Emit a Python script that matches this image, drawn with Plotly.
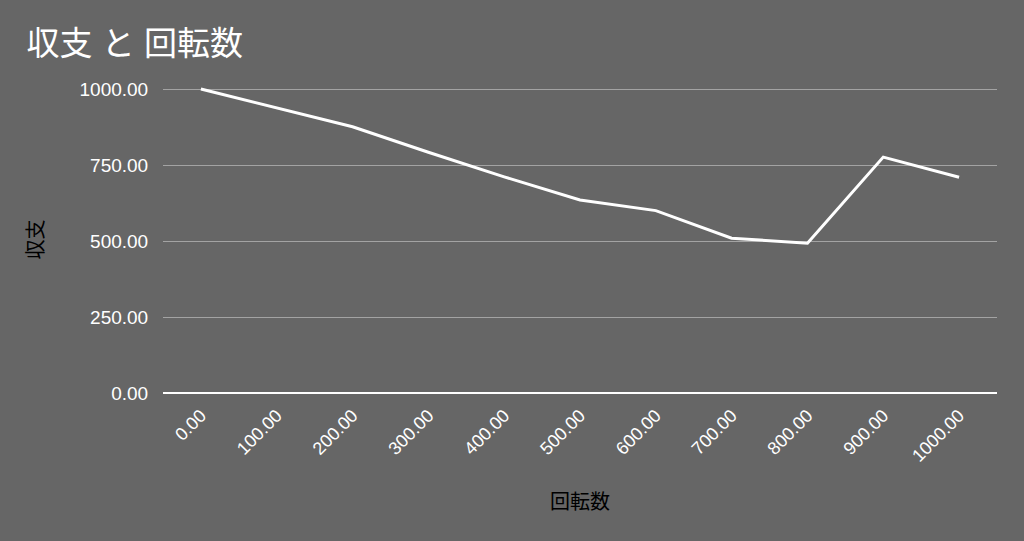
import plotly.graph_objects as go

categories = ["0.00", "100.00", "200.00", "300.00", "400.00", "500.00",
              "600.00", "700.00", "800.00", "900.00", "1000.00"]
balance = [1000, 938, 876, 792, 711, 635, 600, 509, 493, 776, 710]
y_ticks = [0, 250, 500, 750, 1000]
y_tick_labels = ["0.00", "250.00", "500.00", "750.00", "1000.00"]

font_family = "Liberation Sans, Arial, Noto Sans CJK JP, sans-serif"
bg = "#666666"

fig = go.Figure()
fig.add_trace(go.Scatter(
    x=categories, y=balance, mode="lines",
    line=dict(color="#ffffff", width=3),
    showlegend=False, hoverinfo="x+y",
))

fig.update_layout(
    width=1024, height=541,
    paper_bgcolor=bg, plot_bgcolor=bg,
    margin=dict(l=163, r=27, t=86, b=148),
    font=dict(family=font_family, color="#ffffff", size=19),
    title=dict(
        text="収支 と 回転数",
        x=0.026, xanchor="left", y=0.92, yanchor="middle",
        font=dict(size=33, color="#ffffff", family=font_family),
    ),
    xaxis=dict(
        type="category",
        range=[-0.5, 10.5],
        tickangle=-45,
        showgrid=False,
        showline=False,
        zeroline=False,
        ticks="outside", ticklen=4, tickcolor="rgba(0,0,0,0)",
        tickfont=dict(size=18, color="#ffffff"),
        title=dict(text="回転数", font=dict(size=20, color="#000000"), standoff=30),
    ),
    yaxis=dict(
        range=[0, 1010],
        tickvals=y_ticks, ticktext=y_tick_labels,
        showgrid=True, gridcolor="#a3a3a3", gridwidth=1,
        zeroline=True, zerolinecolor="#ffffff", zerolinewidth=2,
        showline=False,
        ticks="outside", ticklen=10, tickcolor="rgba(0,0,0,0)",
        tickfont=dict(size=19, color="#ffffff"),
        title=dict(text="収支", font=dict(size=20, color="#000000"), standoff=30),
    ),
)

fig.write_html("out.html", config={"displayModeBar": False},
               post_script="document.body.style.margin='0px';")
